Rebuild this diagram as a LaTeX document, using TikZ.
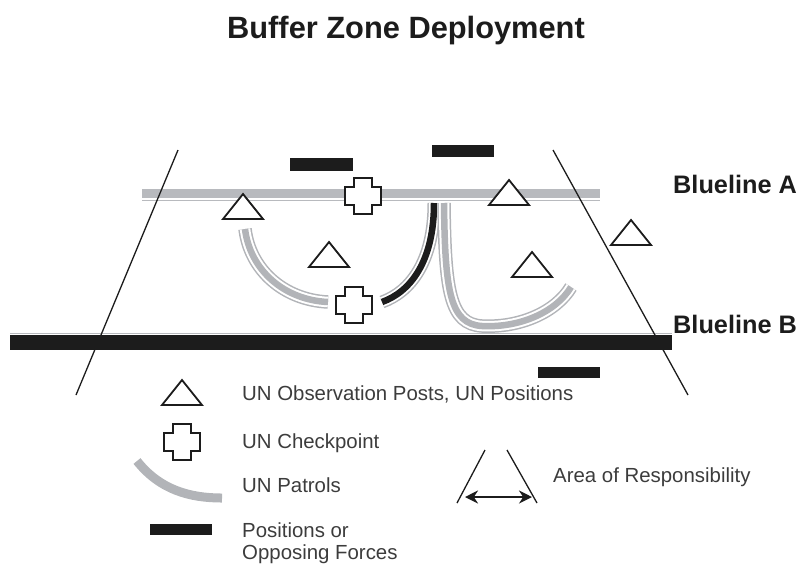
\documentclass[tikz,border=0pt]{standalone}
\usepackage{fontspec}
\setmainfont{Liberation Sans}
\usetikzlibrary{arrows.meta}
\definecolor{bandgray}{RGB}{184,186,190}
\definecolor{patgray}{RGB}{178,180,184}
\definecolor{txtgray}{RGB}{60,60,60}
\definecolor{ink}{RGB}{28,28,28}
\tikzset{
  sideline/.style={line width=1.3, draw=ink},
  opforce/.style={fill=ink, draw=none},
  patrol/.style={draw=patgray, line width=13.5, postaction={draw=white, line width=10.5}, postaction={draw=patgray, line width=6.5}},
  patrolblack/.style={draw=patgray, line width=13, postaction={draw=white, line width=10}, postaction={draw=ink, line width=6.5}},
  legtext/.style={font=\fontsize{20.4}{24}\selectfont, text=txtgray, anchor=base west, inner sep=0},
  bluelabel/.style={font=\fontsize{25.3}{30}\selectfont\bfseries, text=ink, anchor=base west, inner sep=0},
  pics/optri/.style={code={\draw[line width=1.8, draw=ink, fill=white, line join=miter] (-20,0) -- (20,0) -- (0,-25) -- cycle;}},
  pics/checkpt/.style={code={\draw[line width=1.5, draw=ink, fill=white]
      (-9,-18) -- (9,-18) -- (9,-9) -- (18,-9) -- (18,9) -- (9,9) -- (9,18) -- (-9,18)
      -- (-9,9) -- (-18,9) -- (-18,-9) -- (-9,-9) -- cycle;}},
}
\begin{document}
\begin{tikzpicture}[x=1pt,y=-1pt]
\useasboundingbox (0,0) rectangle (799,563);
% title
\node[font=\fontsize{30.8}{36}\selectfont\bfseries, text=ink, anchor=base, inner sep=0] (title) at (406,38) {Buffer Zone Deployment};
% Blueline A
\fill[bandgray] (142,189) rectangle (600,197.5);
\draw[bandgray, line width=1.5] (142,200.5) -- (600,200.5);
% Blueline B
\draw[bandgray, line width=1] (10,333.5) -- (672,333.5);
\fill[ink] (10,335) rectangle (672,350);
% side lines (area of responsibility)
\draw[sideline] (178,150) -- (76,395);
\draw[sideline] (553,150) -- (688,395);
% opposing forces
\fill[opforce] (290,158) rectangle (353,171);
\fill[opforce] (432,145) rectangle (494,157);
\fill[opforce] (538,367) rectangle (600,378);
% patrols
\draw[patrol] (245,229) .. controls (250,270) and (284,300) .. (328,302);
\draw[patrolblack] (434,203) .. controls (434,262) and (410,292) .. (382,302);
\draw[patrol] (444,203) .. controls (445,292) and (450,324) .. (482,326) .. controls (520,328) and (556,312) .. (571,287);
% checkpoints
\pic (cpA) at (363,196) {checkpt};
\pic (cpB) at (354,305) {checkpt};
% observation posts
\pic (opA) at (243,219) {optri};
\pic (opB) at (329,267) {optri};
\pic (opC) at (509,205) {optri};
\pic (opD) at (532,277) {optri};
\pic (opE) at (631,245) {optri};
% blueline labels
\node[bluelabel] (blA) at (673,193) {Blueline A};
\node[bluelabel] (blB) at (673,333) {Blueline B};
% legend
\pic (legop) at (182,405) {optri};
\node[legtext] (lt1) at (242,400) {UN Observation Posts, UN Positions};
\pic (legcp) at (182,442) {checkpt};
\node[legtext] (lt2) at (242,448) {UN Checkpoint};
\draw[patgray, line width=9] (137,461) .. controls (160,490) and (190,498) .. (222,498);
\node[legtext] (lt3) at (242,492) {UN Patrols};
\fill[opforce] (150,524) rectangle (212,535);
\node[legtext] (lt4) at (242,537) {Positions or};
\node[legtext] (lt5) at (242,559) {Opposing Forces};
% area of responsibility legend
\coordinate (aorL1) at (457,503);
\coordinate (aorL2) at (485,450);
\coordinate (aorR1) at (507,450);
\coordinate (aorR2) at (537,503);
\draw[sideline] (aorL1) -- (aorL2);
\draw[sideline] (aorR1) -- (aorR2);
\coordinate (arrL) at (465,497);
\coordinate (arrR) at (532,497);
\draw[ink, line width=2.6, {Stealth[length=13pt,width=13pt]}-{Stealth[length=13pt,width=13pt]}] (arrL) -- (arrR);
\node[legtext] (lt6) at (553,482) {Area of Responsibility};
\end{tikzpicture}
\end{document}
